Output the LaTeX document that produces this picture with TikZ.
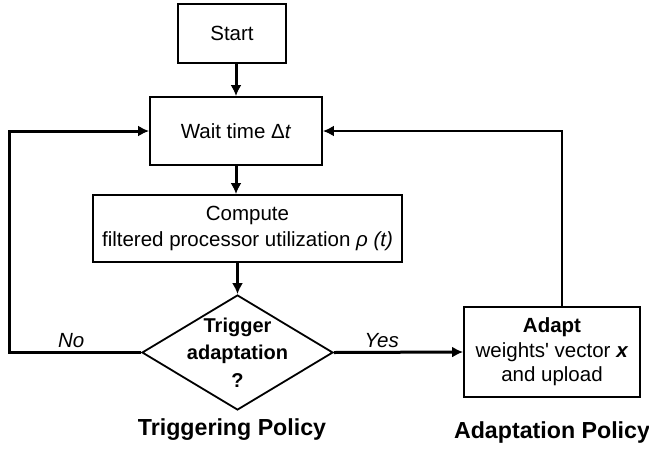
\documentclass[tikz,border=0pt]{standalone}
\usepackage{fontspec}
\setmainfont{Liberation Sans}
\usetikzlibrary{shapes.geometric,arrows.meta}

\begin{document}
\begin{tikzpicture}[x=1pt,y=-1pt,
  box/.style={draw,line width=1.8pt,align=center,inner sep=0pt,
    font=\fontsize{20.5}{26}\selectfont},
  decision/.style={draw,diamond,line width=1.8pt,align=center,inner sep=-16pt,
    minimum width=191pt,minimum height=115pt,
    font=\fontsize{20}{27.5}\selectfont\bfseries},
  flow/.style={line width=3pt,->,>={Latex[length=11pt,width=11pt]}},
  answer/.style={font=\fontsize{20.5}{24}\selectfont\itshape,above,inner sep=3pt},
  policy/.style={font=\fontsize{23.2}{26}\selectfont\bfseries}]
\useasboundingbox (0,0) rectangle (649,451);
\node [box,minimum width=108pt,minimum height=59pt] (start) at (232,33.5) {Start};
\node [box,minimum width=172pt,minimum height=68pt] (wait) at (236,131) {Wait time Δ\textit{t}};
\node [box,minimum width=309pt,minimum height=67pt] (compute) at (247.5,228.5)
  {Compute\\filtered processor utilization \textit{ρ (t)}};
\node [decision] (decide) at (237.5,352.5) {Trigger\\adaptation\\?};
\node [box,minimum width=176pt,minimum height=90pt,font=\fontsize{20.5}{24.5}\selectfont] (adapt) at (552,352)
  {\textbf{Adapt}\\weights\textquotesingle{} vector \textbf{\textit{x}}\\and upload};
\node [policy] (trigpol) at (232,430) {Triggering Policy};
\node [policy] (adaptpol) at (552,432) {Adaptation Policy};
% main flow
\draw [flow] (start.south -| wait.north) -- (wait.north);
\draw [flow] (wait.south) -- (wait.south |- compute.north);
\draw [flow] (compute.south -| decide.north) -- (decide.north);
\draw [flow] (decide.east) -- node [answer,pos=0.37] {Yes} (adapt.west);
% loops back
\draw [flow] (decide.west) -- node [answer,pos=0.53] {No} ++(-132,0) |- (wait.west);
\draw [flow,line width=2.2pt] ([xshift=10pt]adapt.north) |- (wait.east);
\end{tikzpicture}
\end{document}
